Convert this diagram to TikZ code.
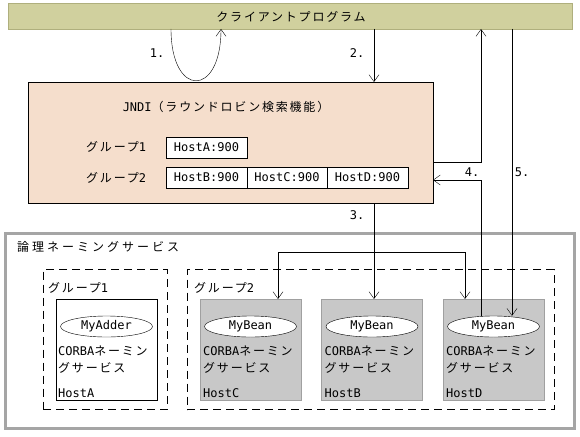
\documentclass[tikz,border=0pt]{standalone}
\usepackage{fontspec}
\setmainfont[LetterSpace=15]{Noto Sans CJK JP}
\newfontfamily\lat{DejaVu Sans Mono}
\usetikzlibrary{arrows.meta,shapes.geometric}
\definecolor{barfill}{RGB}{208,208,158}
\definecolor{barline}{RGB}{175,175,125}
\definecolor{jndifill}{RGB}{245,222,204}
\definecolor{hostfill}{RGB}{200,200,200}
\definecolor{hostline}{RGB}{160,160,160}
\definecolor{outerline}{RGB}{165,165,165}
\tikzset{
  rect/.style={inner sep=0pt, outer sep=0pt, anchor=north west},
  txt/.style={inner sep=0pt, anchor=west},
  ctxt/.style={inner sep=0pt},
  num/.style={inner sep=0pt, font=\lat\fontsize{12}{14}\selectfont},
  tip/.tip={Straight Barb[length=7pt,width=10pt]},
  arr/.style={-tip},
  dashbox/.style={rect, draw, dash pattern=on 8pt off 5pt},
  hostbox/.style={rect, draw=hostline, fill=hostfill, minimum width=101pt, minimum height=101pt},
  bean/.style={ellipse, draw, fill=white, minimum width=92pt, minimum height=21pt, inner sep=0pt, font=\lat\fontsize{12}{13}\selectfont},
  cell/.style={rect, draw, fill=white, minimum height=21pt, font=\lat\fontsize{12}{14}\selectfont},
}
\begin{document}
\begin{tikzpicture}[x=1pt,y=-1pt,font=\fontsize{12}{14}\selectfont]
\useasboundingbox (0,0) rectangle (580,436);
% client bar
\node[rect, fill=barfill, draw=barline, minimum width=564pt, minimum height=26pt] (client) at (8,3) {};
\node[ctxt] (clientt) at (291,16.5) {クライアントプログラム};
% JNDI box
\node[rect, draw, fill=jndifill, minimum width=405pt, minimum height=121pt] (jndi) at (28,82) {};
\node[ctxt] (jnditt) at (226,107) {{\lat JNDI}（ラウンドロビン検索機能）};
\node[txt] (g1l) at (86,147) {グループ{\lat 1}};
\node[txt] (g2l) at (86,177.5) {グループ{\lat 2}};
\node[cell, minimum width=81pt] (ha) at (166,137) {HostA:900};
\node[cell, minimum width=81pt] (hb) at (166,167) {HostB:900};
\node[cell, minimum width=80pt] (hc) at (247,167) {HostC:900};
\node[cell, minimum width=81pt] (hd) at (327,167) {HostD:900};
% logical naming service
\node[rect, draw=outerline, line width=3pt, minimum width=569pt, minimum height=195pt] (ns) at (5.5,233) {};
\node[txt] (nsl) at (17,247) {\addfontfeatures{LetterSpace=25}論理ネーミングサービス};
\node[dashbox, minimum width=124pt, minimum height=140pt] (grp1) at (43,269.5) {};
\node[txt] (grp1l) at (48,288) {グループ{\lat 1}};
\node[dashbox, minimum width=367pt, minimum height=140pt] (grp2) at (187,269.5) {};
\node[txt] (grp2l) at (194,288) {グループ{\lat 2}};
% hosts
\node[rect, draw, fill=white, minimum width=101pt, minimum height=101pt] (hostA) at (56,299) {};
\node[hostbox] (hostC) at (200,299) {};
\node[hostbox] (hostB) at (321.5,299) {};
\node[hostbox] (hostD) at (443,299) {};
\node[bean] (eA) at (106.5,326.5) {MyAdder};
\node[bean] (eC) at (250.5,326.5) {MyBean};
\node[bean] (eB) at (372,326.5) {MyBean};
\node[bean] (eD) at (493.5,326.5) {MyBean};
\foreach \h/\x in {A/58,C/203,B/324.5,D/446}{
  \node[txt] (cor\h) at (\x,351) {{\lat CORBA}ネーミン};
  \node[txt] (svc\h) at (\x,368) {グサービス};
  \node[txt, font=\lat\fontsize{12}{14}\selectfont] (lab\h) at (\x,393) {Host\h};
}
% connector columns
\coordinate (l1) at (171,0);
\coordinate (l2) at (221,0);
\coordinate (a2) at (374,0);
\coordinate (bl) at (278,252);
\coordinate (brr) at (465,252);
\coordinate (c481) at (481,0);
\coordinate (c512) at (512,0);
\coordinate (j3) at (0,162);
\coordinate (j4) at (0,180);
% 1. loop
\draw[arr] (client.south -| l1) .. controls (171,98) and (221,98) .. (client.south -| l2);
\node[num] (n1) at (157,53) {1.};
% 2.
\draw[arr] (client.south -| a2) -- (jndi.north -| a2);
\node[num] (n2) at (357,53) {2.};
% 3.
\draw[arr] (jndi.south -| a2) -- (hostB.north -| a2);
\draw[tip-tip] (hostC.north -| bl) -- (bl) -- (brr) -- (hostD.north -| brr);
\node[num] (n3) at (357,215) {3.};
% 4.
\draw[arr] (eD.north -| c481) -- (c481 |- j4) -- (jndi.east |- j4);
\node[num] (n4) at (472,172) {4.};
% JNDI -> client
\draw[arr] (jndi.east |- j3) -| (client.south -| c481);
% 5.
\draw[arr] (client.south -| c512) -- (eD.north -| c512);
\node[num] (n5) at (522,172) {5.};
\end{tikzpicture}
\end{document}
